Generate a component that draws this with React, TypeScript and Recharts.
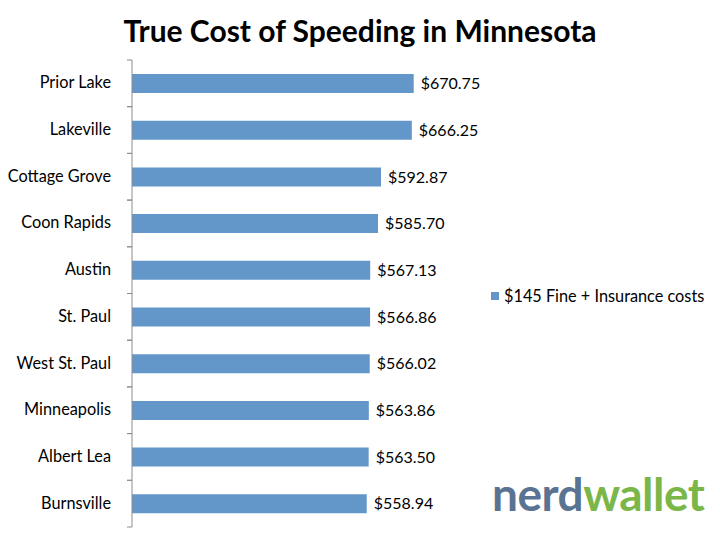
import { BarChart, Bar, XAxis, YAxis, LabelList } from "recharts";

const cities = [
  "Prior Lake",
  "Lakeville",
  "Cottage Grove",
  "Coon Rapids",
  "Austin",
  "St. Paul",
  "West St. Paul",
  "Minneapolis",
  "Albert Lea",
  "Burnsville",
];
const costs = [670.75, 666.25, 592.87, 585.7, 567.13, 566.86, 566.02, 563.86, 563.5, 558.94];
const seriesName = "$145 Fine + Insurance costs";

const data = cities.map((city, i) => ({ city, cost: costs[i] }));

const FONT = "Lato, 'Open Sans', sans-serif";
const BLUE = "#6397c9";
const TOP = 60;
const BOTTOM = 13;
const HEIGHT = 540;
const BAND = (HEIGHT - TOP - BOTTOM) / cities.length;

// Excel-style ticks sit between the categories, not at their centres
function CityTick(props: any) {
  const { x, y, payload } = props;
  const axisX = x + 21;
  return (
    <g>
      <line x1={axisX - 5} x2={axisX} y1={y - BAND / 2} y2={y - BAND / 2} stroke="#8c8c8c" />
      <line x1={axisX - 5} x2={axisX} y1={y + BAND / 2} y2={y + BAND / 2} stroke="#8c8c8c" />
      <text x={x} y={y} dy={5} textAnchor="end" fontSize={16.3} fontFamily={FONT} fill="#000">
        {payload.value}
      </text>
    </g>
  );
}

export default function App() {
  return (
    <div style={{ position: "absolute", left: 0, top: 0, width: 720, height: 540, background: "#fff" }}>
      <div
        style={{
          position: "absolute",
          top: 12,
          width: 720,
          textAlign: "center",
          fontFamily: FONT,
          fontWeight: 700,
          fontSize: 30,
          color: "#000",
        }}
      >
        True Cost of Speeding in Minnesota
      </div>
      <BarChart
        width={720}
        height={HEIGHT}
        data={data}
        layout="vertical"
        margin={{ top: TOP, right: 252, left: 0, bottom: BOTTOM }}
        barSize={19}
      >
        <XAxis type="number" domain={[0, 800]} hide />
        <YAxis
          type="category"
          dataKey="city"
          width={132}
          tickSize={19}
          tickMargin={2}
          tickLine={false}
          axisLine={{ stroke: "#8c8c8c" }}
          tick={<CityTick />}
          interval={0}
        />
        <Bar dataKey="cost" fill={BLUE} isAnimationActive={false}>
          <LabelList
            dataKey="cost"
            position="right"
            offset={7}
            formatter={(v: any) => `$${Number(v).toFixed(2)}`}
            style={{ fontSize: 16, fontFamily: FONT, fill: "#000" }}
          />
        </Bar>
      </BarChart>
      <div
        style={{
          position: "absolute",
          left: 491,
          top: 286,
          display: "flex",
          alignItems: "center",
          fontFamily: FONT,
          fontSize: 16.3,
          color: "#000",
        }}
      >
        <span style={{ display: "inline-block", width: 8, height: 8, background: BLUE, marginRight: 5 }} />
        {seriesName}
      </div>
      <div
        style={{
          position: "absolute",
          left: 492,
          top: 466,
          fontFamily: FONT,
          fontWeight: 700,
          fontSize: 46,
          letterSpacing: -0.5,
        }}
      >
        <span style={{ color: "#5b7392" }}>nerd</span>
        <span style={{ color: "#7ab648" }}>wallet</span>
      </div>
    </div>
  );
}
